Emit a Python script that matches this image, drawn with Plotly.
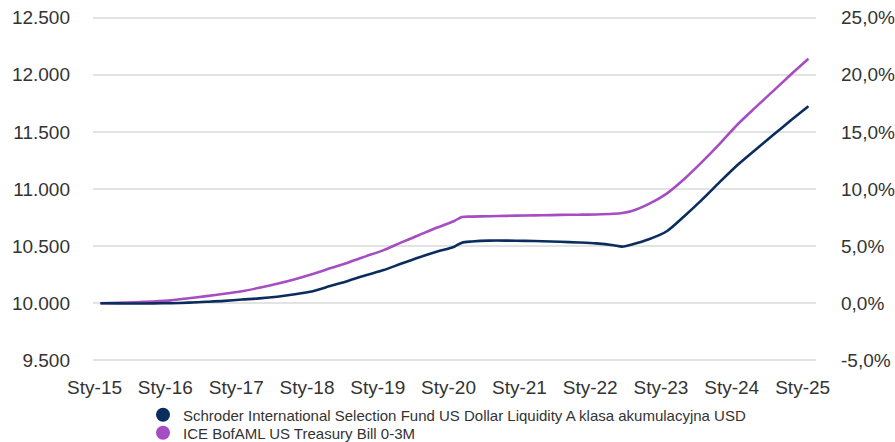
import plotly.graph_objects as go

dates = [
    "2015-01-31", "2015-04-30", "2015-07-31", "2015-10-31",
    "2016-01-31", "2016-04-30", "2016-07-31", "2016-10-31",
    "2017-01-31", "2017-04-30", "2017-07-31", "2017-10-31",
    "2018-01-31", "2018-04-30", "2018-07-31", "2018-10-31",
    "2019-01-31", "2019-04-30", "2019-07-31", "2019-10-31",
    "2020-01-31", "2020-03-10", "2020-04-30", "2020-07-31", "2020-10-31",
    "2021-01-31", "2021-04-30", "2021-07-31", "2021-10-31",
    "2022-01-31", "2022-04-30", "2022-06-15", "2022-07-31", "2022-10-31",
    "2023-01-31", "2023-04-30", "2023-07-31", "2023-10-31",
    "2024-01-31", "2024-04-30", "2024-07-31", "2024-10-31",
    "2025-01-31",
]

fund = [
    10000, 9998, 9997, 9998,
    10000, 10005, 10012, 10020,
    10032, 10042, 10057, 10078,
    10105, 10150, 10195, 10245,
    10290, 10345, 10400, 10450,
    10495, 10530, 10540, 10548, 10548,
    10546, 10543, 10538, 10532,
    10524, 10508, 10495, 10512, 10560,
    10630, 10760, 10905, 11060,
    11210, 11340, 11470, 11600,
    11725,
]

bench = [
    10000, 10004, 10008, 10015,
    10025, 10043, 10062, 10082,
    10105, 10135, 10170, 10210,
    10255, 10305, 10355, 10410,
    10465, 10530, 10595, 10660,
    10720, 10755, 10758, 10762, 10765,
    10768, 10770, 10773, 10775,
    10777, 10783, 10790, 10805, 10870,
    10960, 11085, 11235, 11395,
    11565, 11710, 11855, 12000,
    12140,
]

x_tickvals = ["2015-01-01", "2016-01-01", "2017-01-01", "2018-01-01", "2019-01-01",
              "2020-01-01", "2021-01-01", "2022-01-01", "2023-01-01", "2024-01-01", "2025-01-01"]
x_ticktext = ["Sty-15", "Sty-16", "Sty-17", "Sty-18", "Sty-19", "Sty-20",
              "Sty-21", "Sty-22", "Sty-23", "Sty-24", "Sty-25"]

y_tickvals = [9500, 10000, 10500, 11000, 11500, 12000, 12500]
y_ticktext = ["9.500", "10.000", "10.500", "11.000", "11.500", "12.000", "12.500"]

y2_tickvals = [-5, 0, 5, 10, 15, 20, 25]
y2_ticktext = ["-5,0%", "0,0%", "5,0%", "10,0%", "15,0%", "20,0%", "25,0%"]

names = ["Schroder International Selection Fund US Dollar Liquidity A klasa akumulacyjna USD",
         "ICE BofAML US Treasury Bill 0-3M"]
colors = ["#0B2D5E", "#A64DC2"]

W, H = 895, 442

fig = go.Figure()
fig.add_trace(go.Scatter(x=dates, y=bench, mode="lines",
                         line=dict(color=colors[1], width=2.6, shape="spline", smoothing=0.7),
                         showlegend=False, hoverinfo="skip"))
fig.add_trace(go.Scatter(x=dates, y=fund, mode="lines",
                         line=dict(color=colors[0], width=2.6, shape="spline", smoothing=0.7),
                         showlegend=False, hoverinfo="skip"))
legend_ids = ["legend", "legend2"]
for nm, c, lg in zip(names, colors, legend_ids):
    fig.add_trace(go.Scatter(x=[None], y=[None], mode="markers", name=nm, legend=lg,
                             marker=dict(color=c, size=14, symbol="circle")))
fig.add_trace(go.Scatter(x=[None], y=[None], yaxis="y2", showlegend=False, hoverinfo="skip"))

legend_style = dict(xref="container", yref="container", xanchor="left", yanchor="middle",
                    font=dict(size=15, color="#333333"), itemsizing="trace",
                    bgcolor="rgba(0,0,0,0)", borderwidth=0)

fig.update_layout(
    width=W, height=H,
    margin=dict(l=93, r=79, t=16.3, b=80.3, autoexpand=False),
    paper_bgcolor="white", plot_bgcolor="white",
    font=dict(family="Liberation Sans, Arial, sans-serif", color="#333333", size=19),
    xaxis=dict(type="date", range=["2014-12-24", "2025-03-11"], automargin=False,
               tickvals=x_tickvals, ticktext=x_ticktext, showgrid=False,
               showline=False, zeroline=False, ticks="", ticklabelstandoff=12,
               tickfont=dict(size=19), ticklabeloverflow="allow"),
    yaxis=dict(range=[9485, 12515], tickvals=y_tickvals, ticktext=y_ticktext, automargin=False,
               showgrid=True, gridcolor="#E3E3E3", gridwidth=1.5, zeroline=False,
               showline=False, ticks="", ticklabelstandoff=22, tickfont=dict(size=19),
               ticklabeloverflow="allow"),
    yaxis2=dict(range=[-5.15, 25.15], overlaying="y", side="right", tickvals=y2_tickvals,
                automargin=False, ticktext=y2_ticktext, showgrid=False, zeroline=False,
                showline=False, ticks="", ticklabelstandoff=24, tickfont=dict(size=19),
                ticklabeloverflow="allow"),
    legend=dict(x=143 / W, y=1 - 415 / H, **legend_style),
    legend2=dict(x=143 / W, y=1 - 433 / H, **legend_style),
)

fig.write_html("out.html", config={"displayModeBar": False},
               post_script="document.body.style.margin='0';document.body.style.overflow='hidden';")
